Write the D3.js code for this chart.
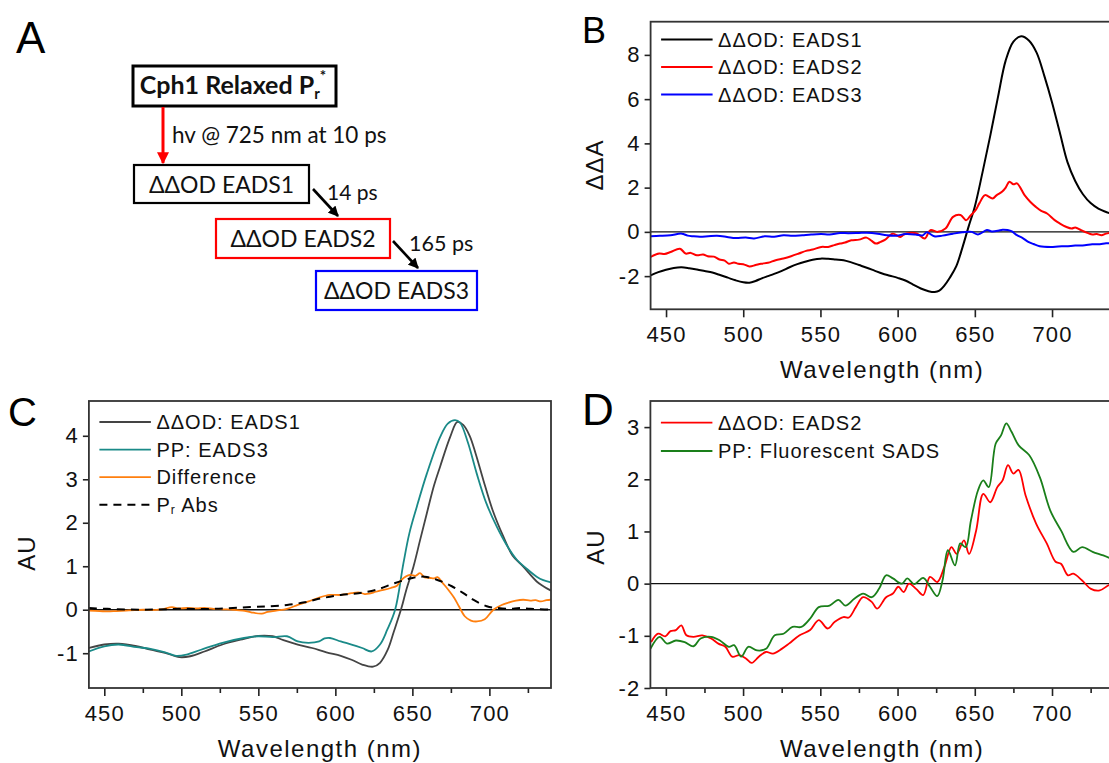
<!DOCTYPE html>
<html>
<head>
<meta charset="utf-8">
<script src="https://cdn.jsdelivr.net/npm/d3@7"></script>
<style>
  body { margin: 0; background: #fff; }
  svg { display: block; }
  .tick line, .domain { stroke: #222; stroke-width: 1.6; }
</style>
</head>
<body>
<script>
// ---- data: [wavelength nm, value] ----
const xTicks = [450, 500, 550, 600, 650, 700];
const xMinor = [475, 525, 575, 625, 675, 725];

// panel B
const bEads1 = [[440,-1.97],[445,-1.82],[450,-1.71],[455,-1.63],[460,-1.6],[465,-1.64],[470,-1.7],[475,-1.77],[480,-1.84],[485,-1.95],[490,-2.07],[495,-2.19],[500,-2.28],[504,-2.3],[508,-2.22],[512,-2.1],[516,-2.0],[520,-1.9],[525,-1.76],[530,-1.6],[535,-1.46],[540,-1.35],[545,-1.26],[550,-1.21],[555,-1.22],[560,-1.25],[565,-1.28],[570,-1.38],[575,-1.5],[580,-1.62],[585,-1.75],[590,-1.88],[595,-1.98],[600,-2.08],[605,-2.2],[610,-2.38],[615,-2.56],[620,-2.68],[624,-2.72],[627,-2.66],[630,-2.45],[634,-2.05],[638,-1.55],[642,-0.7],[646,0.25],[650,1.15],[655,2.7],[660,4.35],[665,6.1],[670,7.75],[675,8.6],[680,8.84],[685,8.65],[690,8.1],[695,7.05],[700,5.85],[705,4.5],[710,3.15],[715,2.3],[720,1.7],[725,1.3],[730,1.05],[735,0.9],[740,0.78]];
const bEads2 = [[440,-1.13],[445.6,-0.98],[449,-1.0],[453,-0.91],[459,-0.76],[462.7,-0.98],[466,-0.95],[470,-1.06],[474,-1.02],[477,-1.1],[481,-1.12],[484.6,-1.25],[488,-1.3],[490.7,-1.44],[494,-1.38],[496.8,-1.44],[500,-1.46],[504,-1.56],[508,-1.5],[511.5,-1.44],[516,-1.4],[521,-1.28],[526,-1.2],[531,-1.1],[536,-0.98],[540.7,-0.86],[545,-0.8],[550.5,-0.68],[555,-0.68],[559,-0.6],[562.7,-0.53],[566,-0.48],[570,-0.38],[575,-0.35],[579.8,-0.26],[583,-0.4],[585.9,-0.53],[589,-0.45],[592,-0.35],[596.8,-0.08],[601.7,-0.23],[604,-0.12],[607.8,-0.05],[612.7,-0.08],[617.6,-0.3],[621.2,0.08],[626,0.0],[631,0.15],[635.9,0.68],[640.7,0.76],[644.4,0.53],[647,0.72],[650.5,0.98],[653,1.3],[656.6,1.66],[661.5,1.51],[664,1.65],[667.6,1.81],[670,2.0],[672.4,2.27],[675,2.15],[677.3,2.19],[682.2,1.66],[686,1.35],[689.5,1.13],[693,0.95],[696.8,0.83],[701.7,0.53],[705,0.38],[709,0.23],[712.7,0.15],[715,0.2],[718.8,0.08],[722,-0.02],[726,-0.12],[729,-0.1],[732,-0.15],[735,-0.08],[740,0.0]];
const bEads3 = [[440,-0.2],[446,-0.18],[452.9,-0.15],[460.2,-0.08],[464,-0.17],[467.6,-0.2],[472,-0.22],[477.3,-0.2],[483,-0.18],[489.5,-0.23],[495,-0.28],[501.7,-0.26],[507,-0.3],[513.9,-0.2],[520,-0.22],[526.1,-0.15],[532,-0.18],[538.3,-0.15],[544,-0.12],[550.5,-0.1],[556,-0.12],[562.7,-0.05],[568,-0.06],[574.9,-0.05],[580,-0.04],[587.1,-0.08],[593,-0.15],[599.3,-0.17],[605,-0.1],[611.5,-0.12],[616,-0.16],[619,-0.02],[623.7,-0.2],[629,-0.17],[635.9,-0.08],[642,-0.02],[648,0.0],[652,-0.12],[657.8,0.08],[661,0.02],[665.1,0.05],[668,0.1],[671.2,0.08],[674,0.02],[677.3,-0.15],[681,-0.28],[684.6,-0.45],[688,-0.55],[692,-0.65],[699.3,-0.68],[704,-0.66],[709,-0.65],[715,-0.62],[721.2,-0.6],[726,-0.56],[731,-0.56],[735,-0.52],[740,-0.53]];

// panel C
const cEads1 = [[440,-0.88],[450,-0.8],[459.3,-0.78],[471,-0.84],[480,-0.92],[489.5,-0.99],[498.8,-1.09],[505.8,-1.07],[515,-0.96],[526.7,-0.8],[538.4,-0.69],[550,-0.6],[559.3,-0.61],[566.3,-0.7],[575.6,-0.8],[584.9,-0.88],[594.2,-0.98],[603.5,-1.06],[610.5,-1.15],[617.4,-1.26],[624.5,-1.31],[629,-1.22],[634,-0.92],[638,-0.5],[643,0.05],[646,0.45],[650.7,0.99],[655,1.6],[659.4,2.22],[664,2.85],[668,3.29],[674.5,3.97],[679.2,4.32],[683,4.25],[687.2,4.0],[691,3.6],[696.1,2.98],[702,2.3],[709.1,1.68],[715,1.25],[722,0.99],[730.7,0.65],[735,0.54],[740,0.44]];
const cPpEads3 = [[440,-0.96],[450,-0.84],[459.3,-0.8],[471,-0.86],[480,-0.9],[489.5,-0.98],[496.5,-1.06],[503.5,-1.03],[512.8,-0.92],[526.7,-0.76],[540.7,-0.65],[550,-0.61],[559.3,-0.63],[568.6,-0.61],[575.6,-0.73],[582.6,-0.76],[589.5,-0.73],[593,-0.66],[596.5,-0.65],[603.5,-0.73],[610.5,-0.8],[617.4,-0.88],[623.6,-0.96],[629,-0.8],[633.7,-0.46],[638.8,0.0],[644.2,1.07],[648,1.75],[652.9,2.37],[659.4,3.13],[668,3.97],[673,4.28],[677.7,4.36],[681,4.3],[686,3.85],[691.8,3.13],[698,2.45],[704.8,1.91],[711,1.5],[717.8,1.15],[724,0.95],[730.7,0.76],[735,0.68],[740,0.63]];
const cDifference = [[440,-0.02],[447,-0.03],[452,-0.04],[458,-0.03],[464,-0.02],[470,-0.01],[475.6,0.0],[481,-0.01],[487.2,0.01],[494,0.06],[498,0.03],[503.5,0.04],[510,0.03],[515,0.04],[521,0.02],[527,0.01],[533.7,0.0],[540,-0.02],[545.3,-0.06],[552.3,-0.09],[556,-0.05],[561.6,-0.02],[568.6,0.02],[575.6,0.11],[582.6,0.19],[589.5,0.28],[596.5,0.34],[603.5,0.34],[607,0.36],[610.5,0.38],[615,0.4],[619,0.36],[622,0.37],[625,0.4],[629,0.44],[632,0.46],[636,0.5],[640,0.55],[643,0.69],[648.5,0.8],[652,0.78],[655,0.84],[658,0.74],[661.6,0.73],[664,0.72],[666.3,0.75],[670,0.6],[673.3,0.46],[677,0.28],[680.2,0.08],[684,-0.15],[688,-0.25],[692,-0.27],[697,-0.22],[702.6,0.0],[708,0.11],[712,0.16],[717.2,0.21],[722,0.23],[726.5,0.21],[730,0.22],[733.5,0.19],[737,0.22],[740,0.23]];
const cPrAbs = [[440,0.04],[452,0.02],[475,0.0],[498,0.02],[522,0.02],[545,0.06],[558,0.08],[568.6,0.11],[580,0.17],[591.9,0.27],[603.5,0.34],[615,0.38],[626.7,0.46],[638.4,0.61],[650,0.73],[658,0.76],[665.8,0.69],[675.6,0.54],[683.1,0.38],[689.5,0.23],[698.3,0.08],[705,0.04],[712.8,0.02],[720,0.04],[726.5,0.02],[733,0.01],[740,0.0]];

// panel D
const dEads2 = [[440.5,-1.12],[445,-0.96],[449.6,-1.01],[453,-0.91],[456.5,-0.89],[460,-0.8],[463.3,-0.99],[467.9,-1.02],[473.6,-0.99],[479.3,-1.05],[484,-1.15],[488.5,-1.21],[493,-1.4],[497.6,-1.37],[502,-1.44],[505.6,-1.52],[510.2,-1.4],[514.8,-1.31],[519.3,-1.34],[525,-1.25],[529.7,-1.15],[536.6,-0.99],[543.4,-0.89],[549,-0.7],[554.8,-0.86],[559.4,-0.73],[565,-0.64],[568.5,-0.65],[573,-0.45],[577.7,-0.26],[583.3,-0.35],[586.8,-0.48],[592.6,-0.26],[597,-0.19],[600.5,-0.06],[604,-0.16],[607.4,0.0],[612,-0.1],[616.6,-0.22],[621,0.13],[625.7,0.03],[630.3,0.32],[634.9,0.7],[638.3,0.57],[643,0.83],[646.3,0.57],[650.9,1.02],[655.5,1.72],[660,1.56],[664.6,1.85],[668,1.98],[671.5,2.27],[675,2.11],[678.3,2.18],[682.9,1.69],[689.7,1.15],[696.6,0.77],[702.3,0.42],[705.8,0.38],[710.3,0.16],[713.8,0.19],[719.5,0.06],[725.2,-0.1],[730.9,-0.13],[736.7,-0.03],[740,0.0]];
const dFluorSads = [[440,-1.25],[446,-1.02],[450.7,-1.15],[456.5,-1.09],[462.2,-1.12],[467.9,-1.2],[472.5,-1.05],[479.3,-1.02],[485,-1.09],[490.8,-1.21],[494.2,-1.18],[498.8,-1.4],[503.4,-1.21],[509,-1.28],[514.8,-1.25],[520.5,-0.99],[526.2,-0.96],[532,-0.83],[537.7,-0.83],[543.4,-0.67],[549,-0.45],[556,-0.42],[561.7,-0.31],[566.3,-0.42],[572,-0.29],[577.7,-0.19],[583.3,-0.26],[588,-0.1],[592.6,0.16],[597,0.1],[602.8,0.0],[606.3,0.1],[610.8,-0.01],[616.6,0.11],[621,-0.06],[625.7,-0.24],[629.1,0.06],[632.6,0.64],[637.2,0.35],[640.6,0.77],[644.1,0.7],[647.5,1.21],[652.1,1.79],[655.5,1.98],[659,1.85],[663.5,2.68],[667,2.84],[670.4,3.07],[673.8,2.91],[678.4,2.65],[685.3,2.46],[692.1,2.04],[698.9,1.4],[705.8,1.02],[713.8,0.61],[719.5,0.7],[726.3,0.61],[733.2,0.54],[740,0.46]];

const FONT = '"Liberation Sans", Arial, sans-serif';
const svg = d3.select("body").append("svg").attr("width", 1109).attr("height", 763);
svg.append("defs");

// ---------- panel A : scheme ----------
function drawScheme() {
  const g = svg.append("g");
  const defs = svg.select("defs");
  ["red", "black"].forEach(c => {
    defs.append("marker").attr("id", "arrow-" + c)
      .attr("viewBox", "0 0 10 10").attr("refX", 9).attr("refY", 5)
      .attr("markerWidth", 4).attr("markerHeight", 4).attr("orient", "auto")
      .append("path").attr("d", "M0,0L10,5L0,10z").attr("fill", c === "red" ? "#f00" : "#000");
  });
  g.append("text").attr("x", 16).attr("y", 53).attr("font-family", FONT).attr("font-size", 44).text("A");

  const boxes = [
    {x: 133, y: 66, w: 203, h: 40, stroke: "#000", sw: 3},
    {x: 134, y: 165, w: 175, h: 38, stroke: "#000", sw: 2.2},
    {x: 216, y: 219, w: 174, h: 39, stroke: "#f00", sw: 2.2},
    {x: 316, y: 271, w: 161, h: 39, stroke: "#00f", sw: 2.2}
  ];
  g.selectAll("rect.box").data(boxes).enter().append("rect").attr("class", "box")
    .attr("x", d => d.x).attr("y", d => d.y).attr("width", d => d.w).attr("height", d => d.h)
    .attr("fill", "none").attr("stroke", d => d.stroke).attr("stroke-width", d => d.sw);

  const t1 = g.append("text").attr("x", 233).attr("y", 94).attr("text-anchor", "middle")
    .attr("font-family", "Lato, sans-serif").attr("font-weight", "bold").attr("font-size", 25).attr("fill", "#111");
  t1.append("tspan").text("Cph1 Relaxed P");
  t1.append("tspan").attr("font-size", 15).attr("dy", 5).text("r");
  t1.append("tspan").attr("font-size", 15).attr("dy", -18).text("*");

  const labels = [
    {x: 221.5, y: 193, t: "ΔΔOD EADS1"},
    {x: 303, y: 247, t: "ΔΔOD EADS2"},
    {x: 396.5, y: 299, t: "ΔΔOD EADS3"},
    {x: 172, y: 143, t: "hv @ 725 nm at 10 ps", a: "start", s: 22.5},
    {x: 327, y: 200, t: "14 ps", a: "start", s: 21},
    {x: 409, y: 251, t: "165 ps", a: "start", s: 21.5}
  ];
  g.selectAll("text.lab").data(labels).enter().append("text").attr("class", "lab")
    .attr("x", d => d.x).attr("y", d => d.y).attr("text-anchor", d => d.a || "middle")
    .attr("font-family", "Lato, sans-serif").attr("font-size", d => d.s || 23).attr("fill", "#111")
    .text(d => d.t);

  g.append("line").attr("x1", 163).attr("y1", 107).attr("x2", 163).attr("y2", 163)
    .attr("stroke", "#f00").attr("stroke-width", 3).attr("marker-end", "url(#arrow-red)");
  [[313, 189, 338, 216], [393, 241, 418, 268]].forEach(p => {
    g.append("line").attr("x1", p[0]).attr("y1", p[1]).attr("x2", p[2]).attr("y2", p[3])
      .attr("stroke", "#000").attr("stroke-width", 2.6).attr("marker-end", "url(#arrow-black)");
  });
}

// ---------- spectra panels ----------
function styleTicks(a) {
  a.select(".domain").remove();
  a.selectAll(".tick text").attr("font-family", FONT).attr("font-size", 22)
    .attr("letter-spacing", 1.2).attr("fill", "#111");
}

function drawPanel(cfg) {
  const x = d3.scaleLinear().domain([440, 740]).range([cfg.left, cfg.right]);
  const y = d3.scaleLinear().domain(cfg.yDomain).range([cfg.bottom, cfg.top]);
  const g = svg.append("g");
  const clipId = "clip-" + cfg.name;
  svg.select("defs").append("clipPath").attr("id", clipId).append("rect")
    .attr("x", cfg.left).attr("y", cfg.top).attr("width", cfg.right - cfg.left).attr("height", cfg.bottom - cfg.top);

  // axes
  if (cfg.minor) {
    g.append("g").attr("transform", `translate(0,${cfg.bottom})`)
      .call(d3.axisBottom(x).tickValues(xMinor).tickSize(5).tickFormat(""))
      .call(a => a.select(".domain").remove());
  }
  g.append("g").attr("transform", `translate(0,${cfg.bottom})`)
    .call(d3.axisBottom(x).tickValues(xTicks).tickSize(8).tickPadding(9).tickFormat(d => String(d)))
    .call(styleTicks);
  g.append("g").attr("transform", `translate(${cfg.left},0)`)
    .call(d3.axisLeft(y).tickValues(cfg.yTicks).tickSize(6).tickPadding(4).tickFormat(d => String(d)))
    .call(styleTicks);

  // zero line
  g.append("line").attr("x1", cfg.left).attr("x2", cfg.right).attr("y1", y(0)).attr("y2", y(0))
    .attr("stroke", "#111").attr("stroke-width", 1.3);

  const line = d3.line().x(d => x(d[0])).y(d => y(d[1])).curve(d3.curveCatmullRom.alpha(0.5));
  const lines = g.append("g").attr("clip-path", `url(#${clipId})`);
  lines.selectAll("path").data(cfg.series).enter().append("path")
    .attr("d", d => line(d.data)).attr("fill", "none")
    .attr("stroke", d => d.color).attr("stroke-width", d => d.width || 2)
    .attr("stroke-dasharray", d => d.dash || null);

  // frame
  g.append("rect").attr("x", cfg.left).attr("y", cfg.top)
    .attr("width", cfg.right - cfg.left).attr("height", cfg.bottom - cfg.top)
    .attr("fill", "none").attr("stroke", "#333").attr("stroke-width", 1.8);

  // legend
  const lg = g.append("g");
  cfg.series.forEach((s, i) => {
    const ly = cfg.legendY + i * cfg.legendStep;
    lg.append("line").attr("x1", cfg.left + 10.5).attr("x2", cfg.left + 62).attr("y1", ly).attr("y2", ly)
      .attr("stroke", s.color).attr("stroke-width", s.width || 2).attr("stroke-dasharray", s.dash || null);
    const t = lg.append("text").attr("x", cfg.left + 67.5).attr("y", ly + 7)
      .attr("font-family", FONT).attr("font-size", 20).attr("letter-spacing", 1).attr("fill", "#111");
    if (s.sub) {
      t.append("tspan").text(s.label[0]);
      t.append("tspan").attr("font-size", 12).attr("dy", 2).text(s.sub);
      t.append("tspan").attr("dy", -2).text(s.label[1]);
    } else {
      t.text(s.label);
    }
  });

  // titles
  g.append("text").attr("x", (cfg.left + cfg.right) / 2).attr("y", cfg.bottom + 69)
    .attr("text-anchor", "middle").attr("font-family", FONT).attr("font-size", 24)
    .attr("letter-spacing", 1.5).attr("fill", "#111").text("Wavelength (nm)");
  g.append("text").attr("transform", `translate(${cfg.yTitleX},${cfg.yTitleY}) rotate(-90)`)
    .attr("text-anchor", "middle").attr("font-family", FONT).attr("font-size", 24)
    .attr("letter-spacing", 1).attr("fill", "#111").text(cfg.yTitle);
  g.append("text").attr("x", cfg.letterX).attr("y", cfg.letterY)
    .attr("font-family", FONT).attr("font-size", cfg.letterSize).attr("fill", "#000").text(cfg.name);
}

drawScheme();

drawPanel({
  name: "B", left: 650.6, right: 1113.8, top: 21.7, bottom: 309.3,
  yDomain: [-3.5, 9.5], yTicks: [-2, 0, 2, 4, 6, 8], minor: false,
  yTitle: "ΔΔA", yTitleX: 603, yTitleY: 165,
  letterX: 582, letterY: 43, letterSize: 36,
  legendY: 39.5, legendStep: 27.5,
  series: [
    {data: bEads1, color: "#000", label: "ΔΔOD: EADS1"},
    {data: bEads2, color: "#f00", label: "ΔΔOD: EADS2"},
    {data: bEads3, color: "#00f", label: "ΔΔOD: EADS3"}
  ]
});

drawPanel({
  name: "C", left: 88.9, right: 551, top: 401, bottom: 688,
  yDomain: [-1.8, 4.8], yTicks: [-1, 0, 1, 2, 3, 4], minor: true,
  yTitle: "AU", yTitleX: 35, yTitleY: 553,
  letterX: 8, letterY: 426, letterSize: 40,
  legendY: 422, legendStep: 27.6,
  series: [
    {data: cEads1, color: "#444", label: "ΔΔOD: EADS1", width: 1.8},
    {data: cPpEads3, color: "#1a8a88", label: "PP: EADS3", width: 1.8},
    {data: cDifference, color: "#ff7f0e", label: "Difference", width: 1.8},
    {data: cPrAbs, color: "#000", label: ["P", " Abs"], sub: "r", width: 2, dash: "8,6"}
  ]
});

drawPanel({
  name: "D", left: 650.4, right: 1113.8, top: 401, bottom: 688,
  yDomain: [-2, 3.5], yTicks: [-2, -1, 0, 1, 2, 3], minor: true,
  yTitle: "AU", yTitleX: 604, yTitleY: 547,
  letterX: 582, letterY: 425, letterSize: 44,
  legendY: 422.7, legendStep: 28.3,
  series: [
    {data: dEads2, color: "#f00", label: "ΔΔOD: EADS2", width: 1.8},
    {data: dFluorSads, color: "#1a7f1a", label: "PP: Fluorescent SADS", width: 1.8}
  ]
});
</script>
</body>
</html>
